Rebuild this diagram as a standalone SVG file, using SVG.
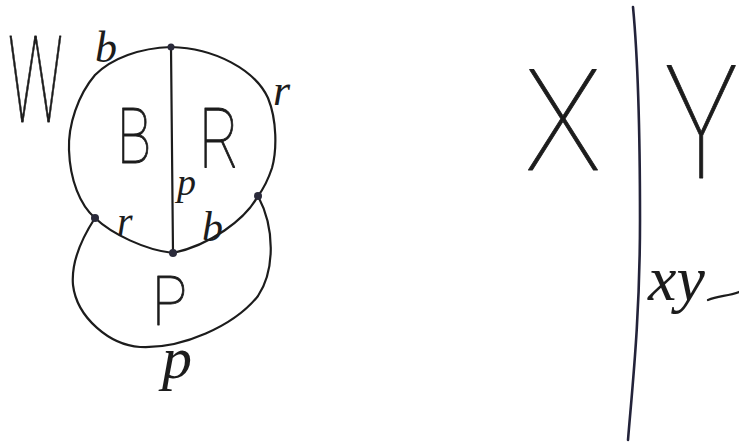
<svg xmlns="http://www.w3.org/2000/svg" width="739" height="445" viewBox="0 0 739 445">
  <style>
    .ink { fill: none; stroke: #1c1c1c; stroke-width: 2.2; stroke-linecap: round; stroke-linejoin: round; }
    .dot { fill: #2a2a3a; }
    .big { font-family: Roboto, "DejaVu Sans", "Liberation Sans", sans-serif; font-weight: 100; fill: #1c1c1c; stroke: #1c1c1c; stroke-width: 0.9; stroke-linejoin: round; }
    .small { font-family: "Liberation Serif", "DejaVu Serif", serif; font-style: italic; fill: #1c1c1c; }
  </style>
  <rect width="739" height="445" fill="#ffffff"/>

  <g id="connectors">
    <path class="ink" d="M171,47 C140,48 112,58 95,75 C78,95 68,125 69,150 C70,180 80,205 95,218 C112,234 145,250 173,253"/>
    <path class="ink" d="M171,47 C215,48 255,70 268,98 C277,120 277,150 272,168 C268,180 264,188 258,196 C245,220 210,245 173,253"/>
    <path class="ink" d="M171,47 C172,115 172,185 173,253"/>
    <path class="ink" d="M95,218 C82,238 71,262 73,285 C77,318 110,345 140,347 C182,349 234,326 258,296 C274,272 276,230 258,196"/>
    <path d="M633,7 C638,60 640,130 640,220 C640,320 632,390 628,440" fill="none" stroke="#23233a" stroke-width="2.6" stroke-linecap="round"/>
  </g>

  <g id="node-top"><circle class="dot" cx="171" cy="47" r="3.5"/></g>
  <g id="node-left"><circle class="dot" cx="95" cy="218" r="4"/></g>
  <g id="node-bottom"><circle class="dot" cx="173" cy="253" r="4"/></g>
  <g id="node-right"><circle class="dot" cx="258" cy="196" r="4"/></g>

  <g id="region-W"><text class="big" transform="translate(8,122) scale(0.5,1)" x="0" y="0" font-size="120" textLength="110" lengthAdjust="spacingAndGlyphs">W</text></g>
  <g id="region-B"><text class="big" x="117" y="163" font-size="77" textLength="34" lengthAdjust="spacingAndGlyphs">B</text></g>
  <g id="region-R"><text class="big" x="199" y="167" font-size="84" textLength="40" lengthAdjust="spacingAndGlyphs">R</text></g>
  <g id="region-P"><text class="big" x="152" y="325" font-size="68" textLength="35" lengthAdjust="spacingAndGlyphs">P</text></g>

  <g id="edge-labels">
    <text class="small" x="95" y="62" font-size="44">b</text>
    <text class="small" x="273" y="105" font-size="44">r</text>
    <text class="small" x="177" y="195" font-size="38">p</text>
    <text class="small" x="117" y="235" font-size="40">r</text>
    <text class="small" x="202" y="241" font-size="42">b</text>
    <text class="small" x="162" y="378" font-size="60">p</text>
  </g>

  <g id="region-X"><text class="big" x="525" y="170" font-size="141" textLength="76" lengthAdjust="spacingAndGlyphs">X</text></g>
  <g id="region-Y"><text class="big" transform="translate(665,178) scale(0.75,1)" x="0" y="0" font-size="158" textLength="97" lengthAdjust="spacingAndGlyphs">Y</text></g>
  <g id="label-xy">
    <text class="small" x="648" y="300" font-size="64">xy</text>
    <path class="ink" d="M708,300 C718,296 728,296 739,292"/>
  </g>
</svg>
